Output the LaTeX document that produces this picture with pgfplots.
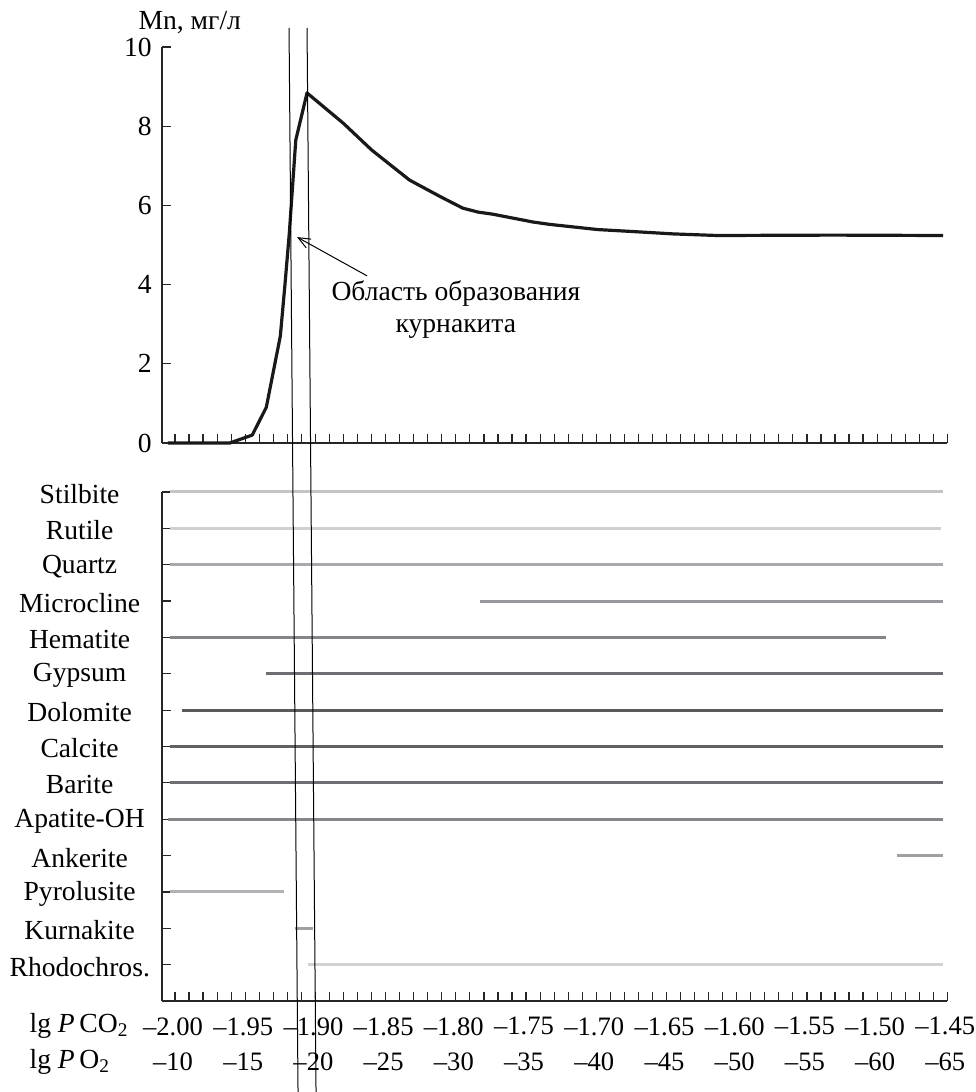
\documentclass[border=0pt]{standalone}
\usepackage{fontspec}
\setmainfont{Liberation Serif}
\usepackage{pgfplots}
\pgfplotsset{compat=1.18}
\usetikzlibrary{arrows.meta}
\pgfplotsset{
  alltick/.style={xtick={-2.00,-1.99,-1.98,-1.97,-1.96,-1.95,-1.94,-1.93,-1.92,-1.91,-1.90,-1.89,-1.88,-1.87,-1.86,-1.85,-1.84,-1.83,-1.82,-1.81,-1.80,-1.79,-1.78,-1.77,-1.76,-1.75,-1.74,-1.73,-1.72,-1.71,-1.70,-1.69,-1.68,-1.67,-1.66,-1.65,-1.64,-1.63,-1.62,-1.61,-1.60,-1.59,-1.58,-1.57,-1.56,-1.55,-1.54,-1.53,-1.52,-1.51,-1.50,-1.49,-1.48,-1.47,-1.46,-1.45}},
  allminor/.style={minor xtick={-2.00,-1.99,-1.98,-1.97,-1.96,-1.95,-1.94,-1.93,-1.92,-1.91,-1.90,-1.89,-1.88,-1.87,-1.86,-1.85,-1.84,-1.83,-1.82,-1.81,-1.80,-1.79,-1.78,-1.77,-1.76,-1.75,-1.74,-1.73,-1.72,-1.71,-1.70,-1.69,-1.68,-1.67,-1.66,-1.65,-1.64,-1.63,-1.62,-1.61,-1.60,-1.59,-1.58,-1.57,-1.56,-1.55,-1.54,-1.53,-1.52,-1.51,-1.50,-1.49,-1.48,-1.47,-1.46,-1.45}},
  common/.style={
    scale only axis, width=392.65pt,
    xmin=-2.00926, xmax=-1.45,
    axis x line=bottom, axis y line=left,
    axis line style={-, line width=0.8pt, black!85},
    tick align=inside, major tick length=4.5pt, minor tick length=4.5pt,
    tick style={line width=0.6pt, black!85},
    clip=false,
  },
}
\begin{document}
\fontsize{13.8pt}{16.5pt}\selectfont
\begin{tikzpicture}
\begin{axis}[common, alltick,
  at={(0,0)}, anchor=south west, height=198pt,
  ymin=0, ymax=10, xticklabels={},
  ytick={0,2,4,6,8,10},
  yticklabel style={inner sep=0pt, xshift=-5pt},
  /pgf/number format/assume math mode=true,
]
\addplot[line width=1.6pt, black!90, line join=round] coordinates {
(-2.005,0) (-1.961,0) (-1.945,0.2) (-1.935,0.9) (-1.925,2.7) (-1.9217,4.0) (-1.9186,5.3) (-1.914,7.65) (-1.906,8.84) (-1.880,8.07) (-1.860,7.40) (-1.833,6.64) (-1.811,6.22) (-1.795,5.93) (-1.784,5.83) (-1.774,5.78) (-1.745,5.58) (-1.733,5.52) (-1.699,5.39) (-1.674,5.34) (-1.645,5.28) (-1.614,5.24) (-1.531,5.25) (-1.453,5.24)
};
\draw[-{Straight Barb[length=6pt,width=5pt]}, line width=0.5pt] (axis cs:-1.8632,4.22) -- (axis cs:-1.9131,5.20);
\node[align=center, font=\fontsize{13.8pt}{16pt}\selectfont] at (axis cs:-1.80,3.37) {Область образования\\курнакита};
\node[anchor=base west] at (axis cs:-2.03276,10.43) {Mn, мг/л};
\node[anchor=base west] at (axis cs:-2.1104,-14.874) {lg \textit{P}\,CO\textsubscript{2}};
\node[anchor=base west] at (axis cs:-2.1104,-15.783) {lg \textit{P}\,O\textsubscript{2}};
\coordinate (L1t) at (axis cs:-1.91880,10.48);
\coordinate (L1b) at (axis cs:-1.91239,-16.389);
\coordinate (L2t) at (axis cs:-1.90598,10.48);
\coordinate (L2b) at (axis cs:-1.89957,-16.389);
\coordinate (bbSW) at (axis cs:-2.12464,-16.389);
\coordinate (bbNE) at (axis cs:-1.43020,11.187);
\end{axis}
\begin{axis}[common, allminor,
  at={(0,-279pt)}, anchor=south west, height=254.5pt,
  ymin=0, ymax=14,
  xtick={-2.00,-1.95,-1.90,-1.85,-1.80,-1.75,-1.70,-1.65,-1.60,-1.55,-1.50,-1.45},
  xticklabels={{–2.00\\–10},{–1.95\\–15},{–1.90\\–20},{–1.85\\–25},{–1.80\\–30},{–1.75\\–35},{–1.70\\–40},{–1.65\\–45},{–1.60\\–50},{–1.55\\–55},{–1.50\\–60},{–1.45\\–65}},
  xticklabel style={align=center, inner sep=0pt, yshift=-8pt, xshift=-1pt, font=\fontsize{13.3pt}{17.75pt}\selectfont},
  ytick={1,2,3,4,5,6,7,8,9,10,11,12,13,14},
  yticklabels={Rhodochros.,Kurnakite,Pyrolusite,Ankerite,Apatite-OH,Barite,Calcite,Dolomite,Gypsum,Hematite,Microcline,Quartz,Rutile,Stilbite},
  yticklabel style={text width=70pt, align=center, inner sep=0pt, xshift=-6pt, yshift=-1pt},
]
\addplot[color={rgb,255:red,196;green,196;blue,196}, line width=1.5pt] coordinates {(-2.0036,14) (-1.4530,14)};
\addplot[color={rgb,255:red,208;green,208;blue,208}, line width=1.5pt] coordinates {(-2.0036,13) (-1.4544,13)};
\addplot[color={rgb,255:red,169;green,169;blue,173}, line width=1.5pt] coordinates {(-2.0036,12) (-1.4530,12)};
\addplot[color={rgb,255:red,152;green,152;blue,156}, line width=1.5pt] coordinates {(-1.7828,11) (-1.4530,11)};
\addplot[color={rgb,255:red,134;green,134;blue,138}, line width=1.5pt] coordinates {(-2.0036,10) (-1.4936,10)};
\addplot[color={rgb,255:red,110;green,110;blue,114}, line width=1.5pt] coordinates {(-1.9352,9) (-1.4530,9)};
\addplot[color={rgb,255:red,90;green,90;blue,92}, line width=1.6pt] coordinates {(-1.9950,8) (-1.4530,8)};
\addplot[color={rgb,255:red,97;green,97;blue,100}, line width=1.6pt] coordinates {(-2.0036,7) (-1.4530,7)};
\addplot[color={rgb,255:red,110;green,110;blue,114}, line width=1.5pt] coordinates {(-2.0036,6) (-1.4530,6)};
\addplot[color={rgb,255:red,134;green,134;blue,138}, line width=1.5pt] coordinates {(-2.0050,5) (-1.4530,5)};
\addplot[color={rgb,255:red,160;green,160;blue,164}, line width=1.5pt] coordinates {(-1.4858,4) (-1.4530,4)};
\addplot[color={rgb,255:red,178;green,178;blue,182}, line width=1.5pt] coordinates {(-2.0036,3) (-1.9227,3)};
\addplot[color={rgb,255:red,160;green,160;blue,160}, line width=1.5pt] coordinates {(-1.9145,2) (-1.9017,2)};
\addplot[color={rgb,255:red,210;green,210;blue,210}, line width=1.5pt] coordinates {(-1.9053,1) (-1.4530,1)};
\end{axis}
\draw[line width=0.5pt] (L1t) -- (L1b);
\draw[line width=0.5pt] (L2t) -- (L2b);
\pgfresetboundingbox
\path[use as bounding box] (bbSW) rectangle (bbNE);
\end{tikzpicture}
\end{document}
